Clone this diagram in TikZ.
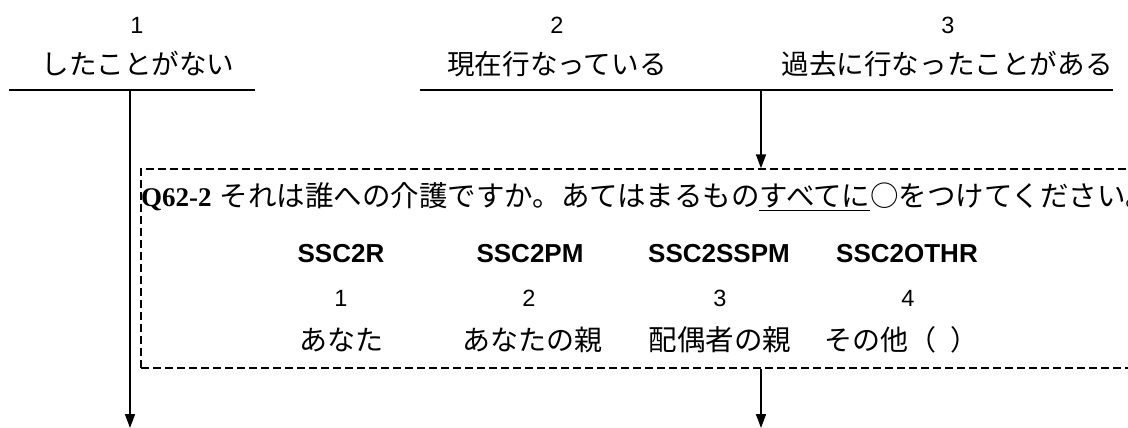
\documentclass[tikz,border=0pt]{standalone}
\usepackage{fontspec}
\usetikzlibrary{arrows.meta}
\newfontfamily\jpf{Noto Sans CJK JP}
\newfontfamily\arf{Liberation Sans}
\newfontfamily\tmf{Liberation Serif}
\tikzset{
  jp/.style={font=\jpf\fontsize{27.6}{30}\selectfont, inner sep=0pt},
  num/.style={font=\arf\fontsize{23.5}{26}\selectfont, inner sep=0pt},
  var/.style={font=\arf\bfseries\fontsize{26}{28}\selectfont, inner sep=0pt},
  rule/.style={line width=1.6pt},
  flow/.style={line width=1.6pt, -{Triangle[width=10pt,length=14pt]}},
  qbox/.style={draw, line width=1.4pt, dash pattern=on 8pt off 4pt, minimum width=999pt, minimum height=199pt, inner sep=0pt}
}
\begin{document}
\begin{tikzpicture}[x=1pt,y=-1pt]
\useasboundingbox (0,0) rectangle (1128,428);
\clip (0,0) rectangle (1128,428);
% top choices
\node[num] (n1) at (137,25) {1};
\node[jp] (l1) at (138,64) {したことがない};
\node[num] (n2) at (557,25) {2};
\node[jp] (l2) at (557,64) {現在行なっている};
\node[num] (n3) at (948,25) {3};
\node[jp] (l3) at (947,64) {過去に行なったことがある};
\coordinate (r1a) at (9,90);
\coordinate (r1b) at (255,90);
\coordinate (r2a) at (420,90);
\coordinate (r2b) at (1113,90);
\draw[rule] (r1a) -- (r1b);
\draw[rule] (r2a) -- (r2b);
% dashed box
\node[qbox] (box) at (640.5,268.5) {};
\node[anchor=west, inner sep=0pt] (q) at (141,197) {\tmf\bfseries\fontsize{27}{30}\selectfont Q62-2\hspace{8pt}\jpf\mdseries\fontsize{28.5}{30}\selectfont それは誰への介護ですか。あてはまるもの\underline{すべてに}○をつけてください。};
% columns
\node[var] (v1) at (341,254) {SSC2R};
\node[var] (v2) at (530,254) {SSC2PM};
\node[var] (v3) at (719,254) {SSC2SSPM};
\node[var] (v4) at (907,254) {SSC2OTHR};
\node[num] (c1) at (341,298) {1};
\node[num] (c2) at (529,298) {2};
\node[num] (c3) at (720,298) {3};
\node[num] (c4) at (908,298) {4};
\node[jp, font=\jpf\fontsize{28}{30}\selectfont] (a1) at (341,340) {あなた};
\node[jp, font=\jpf\fontsize{28}{30}\selectfont] (a2) at (532,340) {あなたの親};
\node[jp, font=\jpf\fontsize{28.5}{30}\selectfont] (a3) at (720,340) {配偶者の親};
\node[jp, font=\jpf\fontsize{28}{30}\selectfont] (a4) at (901,340) {その他（\hspace{14pt}）};
% arrows
\coordinate (e1) at (130,428);
\coordinate (s2) at (761,90);
\coordinate (e3) at (761,428);
\draw[flow] (130,90) -- (e1);
\draw[flow] (s2) -- (s2 |- box.north);
\draw[flow] (s2 |- box.south) -- (e3);
\end{tikzpicture}
\end{document}
